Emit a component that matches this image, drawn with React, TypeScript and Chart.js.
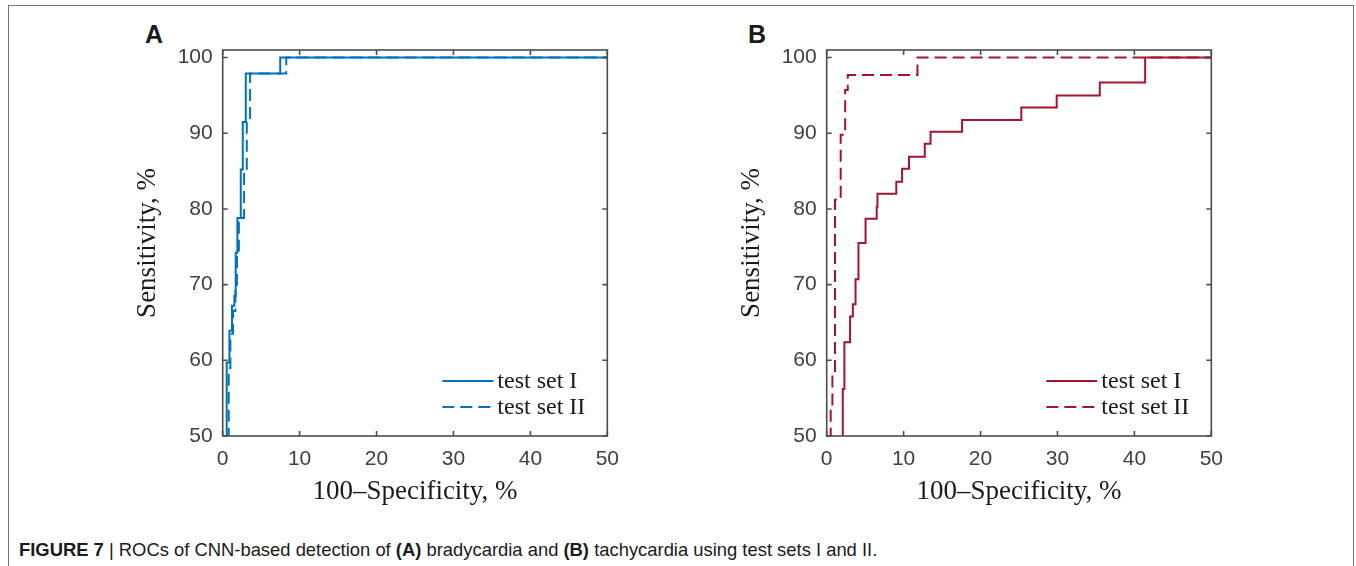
import React, { useEffect, useRef } from "react";
import { Chart, registerables } from "chart.js";

Chart.register(...registerables);

// ---------- data ----------
// Panel A: bradycardia ROC (100-specificity %, sensitivity %)
const bradySet1X = [0.52, 0.52, 0.87, 1.21, 1.52, 1.69, 1.91, 2.35, 2.61, 3.0, 7.48, 50];
const bradySet1Y = [40, 59.7, 63.9, 67.2, 68.5, 74.2, 78.8, 85.2, 91.5, 97.9, 100, 100];
const bradySet2X = [0.78, 0.78, 1.0, 1.35, 1.65, 1.85, 2.1, 2.78, 3.13, 3.56, 8.26, 50];
const bradySet2Y = [40, 59.0, 63.5, 66.5, 70.0, 74.5, 78.8, 85.0, 91.5, 97.9, 100, 100];

// Panel B: tachycardia ROC
const tachySet1X = [2.09, 2.09, 2.3, 3.04, 3.4, 3.75, 4.13, 5.05, 6.5, 6.6, 9.05, 9.8, 10.7, 12.75, 13.5, 17.6, 25.3, 29.9, 35.5, 41.4, 50];
const tachySet1Y = [40, 56.2, 62.4, 65.8, 67.4, 70.7, 75.5, 78.7, 80.3, 82.0, 83.6, 85.3, 86.9, 88.6, 90.2, 91.75, 93.4, 95.0, 96.7, 100, 100];
const tachySet2X = [0.52, 0.52, 0.74, 1.08, 1.82, 2.4, 2.74, 11.8, 50];
const tachySet2Y = [40, 53.8, 58.4, 81.2, 89.8, 95.7, 97.7, 100, 100];

const seriesLabels = ["test set I", "test set II"];
const xTicks = [0, 10, 20, 30, 40, 50];
const yTicks = [50, 60, 70, 80, 90, 100];
const xRange = [0, 50];
const yRange = [50, 101];
const xTitle = "100\u2013Specificity, %";
const yTitle = "Sensitivity, %";
const panelLetters = ["A", "B"];

// ---------- styles ----------
const BLUE = "#0072BD";
const RED = "#A2142F";
const AXIS = "#4d4d4d";
const TICK_TEXT = "#404040";
const SERIF = '"Liberation Serif", "Times New Roman", serif';
const SANS = '"Liberation Sans", Arial, Helvetica, sans-serif';
const DASH = [12, 6];

const CANVAS_W = 530;
const CANVAS_H = 500;

const axisBoxPlugin = {
  id: "axisBox",
  afterDatasetsDraw(chart: any) {
    const { ctx, chartArea, scales } = chart;
    const { left, right, top, bottom } = chartArea;
    const x = scales.x;
    const y = scales.y;
    const t = 5;
    ctx.save();
    ctx.strokeStyle = AXIS;
    ctx.lineWidth = 1.6;
    ctx.setLineDash([]);
    ctx.strokeRect(left, top, right - left, bottom - top);
    ctx.beginPath();
    xTicks.forEach((v) => {
      const px = x.getPixelForValue(v);
      ctx.moveTo(px, bottom);
      ctx.lineTo(px, bottom - t);
      ctx.moveTo(px, top);
      ctx.lineTo(px, top + t);
    });
    yTicks.forEach((v) => {
      const py = y.getPixelForValue(v);
      ctx.moveTo(left, py);
      ctx.lineTo(left + t, py);
      ctx.moveTo(right, py);
      ctx.lineTo(right - t, py);
    });
    ctx.stroke();
    ctx.restore();
  },
};

const insetLegendPlugin = {
  id: "insetLegend",
  afterDatasetsDraw(chart: any) {
    const { ctx, chartArea } = chart;
    const { right, bottom } = chartArea;
    ctx.save();
    chart.data.datasets.forEach((ds: any, i: number) => {
      const yy = bottom - 55 + i * 26;
      ctx.strokeStyle = ds.borderColor;
      ctx.lineWidth = 2;
      ctx.setLineDash(ds.borderDash || []);
      ctx.beginPath();
      ctx.moveTo(right - 165, yy);
      ctx.lineTo(right - 114, yy);
      ctx.stroke();
      ctx.setLineDash([]);
      ctx.fillStyle = "#1a1a1a";
      ctx.font = `24px ${SERIF}`;
      ctx.textBaseline = "middle";
      ctx.textAlign = "left";
      ctx.fillText(ds.label, right - 110, yy + 1);
    });
    ctx.restore();
  },
};

function toPoints(xs: number[], ys: number[]) {
  return xs.map((x, i) => ({ x, y: ys[i] }));
}

type PanelProps = {
  left: number;
  top: number;
  color: string;
  set1X: number[];
  set1Y: number[];
  set2X: number[];
  set2Y: number[];
};

function RocPanel({ left, top, color, set1X, set1Y, set2X, set2Y }: PanelProps) {
  const ref = useRef<HTMLCanvasElement | null>(null);
  useEffect(() => {
    if (!ref.current) return;
    const chart = new Chart(ref.current, {
      type: "line",
      data: {
        datasets: [
          {
            label: seriesLabels[0],
            data: toPoints(set1X, set1Y),
            borderColor: color,
            backgroundColor: color,
            borderWidth: 2,
            pointRadius: 0,
            stepped: "before",
            fill: false,
          },
          {
            label: seriesLabels[1],
            data: toPoints(set2X, set2Y),
            borderColor: color,
            backgroundColor: color,
            borderWidth: 2,
            borderDash: DASH,
            pointRadius: 0,
            stepped: "before",
            fill: false,
          },
        ],
      },
      options: {
        animation: false,
        responsive: false,
        devicePixelRatio: 1,
        layout: { padding: { top: 30, right: 22.3, bottom: 0, left: 0 } },
        plugins: {
          legend: { display: false },
          tooltip: { enabled: false },
          title: { display: false },
        },
        scales: {
          x: {
            type: "linear",
            min: xRange[0],
            max: xRange[1],
            grid: { display: false, drawTicks: false },
            border: { display: false },
            afterBuildTicks: (s: any) => {
              s.ticks = xTicks.map((v) => ({ value: v }));
            },
            afterFit: (s: any) => {
              s.height = 84;
            },
            ticks: {
              color: TICK_TEXT,
              font: { family: SANS, size: 21, lineHeight: 1.2 },
              padding: 11,
              maxRotation: 0,
              autoSkip: false,
            },
            title: {
              display: true,
              text: xTitle,
              color: "#1a1a1a",
              font: { family: SERIF, size: 27, lineHeight: 1.2 },
              padding: { top: 0, bottom: 11.8 },
            },
          },
          y: {
            type: "linear",
            min: yRange[0],
            max: yRange[1],
            grid: { display: false, drawTicks: false },
            border: { display: false },
            afterBuildTicks: (s: any) => {
              s.ticks = yTicks.map((v) => ({ value: v }));
            },
            afterFit: (s: any) => {
              s.width = 122.7;
            },
            ticks: {
              color: TICK_TEXT,
              font: { family: SANS, size: 21, lineHeight: 1.2 },
              padding: 10,
              autoSkip: false,
            },
            title: {
              display: true,
              text: yTitle,
              color: "#1a1a1a",
              font: { family: SERIF, size: 27, lineHeight: 1.2 },
              padding: { top: 31.8, bottom: 0 },
            },
          },
        },
      },
      plugins: [axisBoxPlugin, insetLegendPlugin],
    } as any);
    return () => chart.destroy();
  }, [left, top, color, set1X, set1Y, set2X, set2Y]);

  return (
    <canvas
      ref={ref}
      width={CANVAS_W}
      height={CANVAS_H}
      style={{ position: "absolute", left, top, width: CANVAS_W, height: CANVAS_H }}
    />
  );
}

export default function App() {
  return (
    <div
      style={{
        position: "absolute",
        left: 0,
        top: 0,
        width: 1356,
        height: 566,
        overflow: "hidden",
        background: "#ffffff",
      }}
    >
      <div
        style={{
          position: "absolute",
          left: 8,
          top: 5,
          width: 1346,
          height: 561,
          boxSizing: "border-box",
          borderTop: "1px solid #777",
          borderLeft: "1px solid #777",
          borderRight: "1px solid #777",
        }}
      />
      <div
        style={{
          position: "absolute",
          left: 145,
          top: 22.3,
          fontFamily: SANS,
          fontWeight: "bold",
          fontSize: 25,
          lineHeight: "25px",
          color: "#1a1a1a",
        }}
      >
        {panelLetters[0]}
      </div>
      <div
        style={{
          position: "absolute",
          left: 748,
          top: 22.3,
          fontFamily: SANS,
          fontWeight: "bold",
          fontSize: 25,
          lineHeight: "25px",
          color: "#1a1a1a",
        }}
      >
        {panelLetters[1]}
      </div>
      <RocPanel
        left={100}
        top={20}
        color={BLUE}
        set1X={bradySet1X}
        set1Y={bradySet1Y}
        set2X={bradySet2X}
        set2Y={bradySet2Y}
      />
      <RocPanel
        left={704}
        top={20}
        color={RED}
        set1X={tachySet1X}
        set1Y={tachySet1Y}
        set2X={tachySet2X}
        set2Y={tachySet2Y}
      />
      <div
        style={{
          position: "absolute",
          left: 19,
          top: 540.6,
          fontFamily: SANS,
          fontSize: 18.4,
          lineHeight: "18.4px",
          color: "#1a1a1a",
          whiteSpace: "nowrap",
        }}
      >
        <b>FIGURE 7</b> | ROCs of CNN-based detection of <b>(A)</b> bradycardia and <b>(B)</b>{" "}
        tachycardia using test sets I and II.
      </div>
    </div>
  );
}
